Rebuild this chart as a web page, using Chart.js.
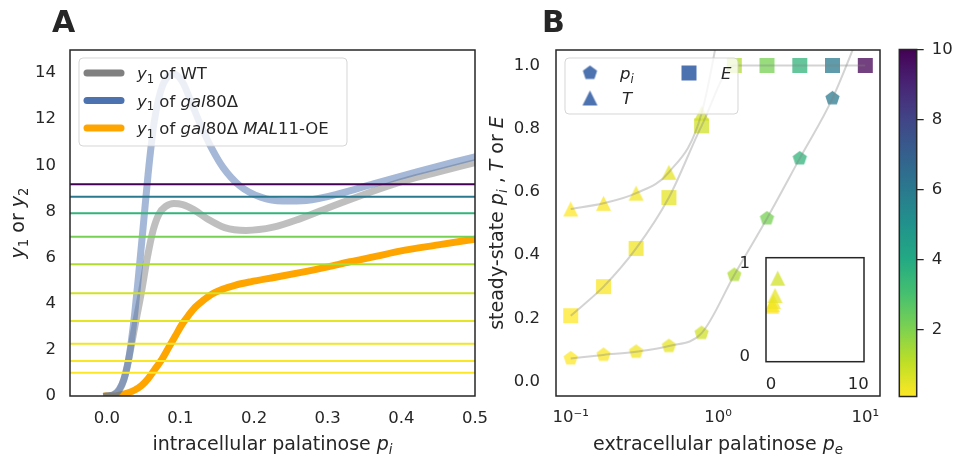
<!DOCTYPE html>
<html>
<head>
<meta charset="utf-8">
<script src="https://cdn.jsdelivr.net/npm/chart.js@4.4.1/dist/chart.umd.min.js"></script>
<style>
  html, body { margin: 0; padding: 0; background: #fff; }
  #fig { position: relative; width: 955px; height: 459px; overflow: hidden; background: #fff; }
  #fig canvas { position: absolute; top: 0; }
</style>
</head>
<body>
<div id="fig">
  <canvas id="panelA" width="500" height="459" style="left:0"></canvas>
  <canvas id="panelB" width="415" height="459" style="left:480px"></canvas>
  <canvas id="inset" width="160" height="160" style="left:720px;top:240px"></canvas>
  <canvas id="cbar" width="65" height="459" style="left:890px"></canvas>
</div>
<script>
(function() {
    "use strict";

    // ---- panel A: y1 against intracellular palatinose ----
    var piWT = [0, 0.009, 0.017, 0.023, 0.029, 0.038, 0.047, 0.055, 0.063, 0.071, 0.08, 0.091,
        0.103, 0.118, 0.138, 0.16, 0.189, 0.226, 0.262, 0.308, 0.353, 0.398, 0.443, 0.5];
    var y1WT = [0, 0.05, 0.25, 0.7, 1.5, 3.0, 4.5, 6.0, 7.2, 7.9, 8.22, 8.35,
        8.3, 8.08, 7.65, 7.3, 7.18, 7.32, 7.68, 8.25, 8.78, 9.27, 9.65, 10.12];

    var piGal80 = [0, 0.009, 0.017, 0.023, 0.028, 0.033, 0.038, 0.043, 0.049, 0.056, 0.064, 0.073,
        0.083, 0.092, 0.103, 0.115, 0.128, 0.143, 0.158, 0.181, 0.209, 0.239, 0.271, 0.317,
        0.362, 0.421, 0.5];
    var y1Gal80 = [0, 0.05, 0.3, 0.7, 1.3, 2.3, 3.6, 5.2, 7.2, 9.6, 11.8, 13.2,
        13.85, 13.95, 13.6, 12.7, 11.7, 10.7, 9.9, 9.1, 8.62, 8.45, 8.48, 8.78,
        9.2, 9.72, 10.37];

    var piMal11 = [0, 0.01, 0.018, 0.027, 0.038, 0.047, 0.056, 0.065, 0.075, 0.084, 0.093, 0.102,
        0.111, 0.12, 0.13, 0.143, 0.157, 0.174, 0.195, 0.229, 0.262, 0.3, 0.33, 0.365,
        0.398, 0.45, 0.5];
    var y1Mal11 = [0, 0, 0.05, 0.12, 0.26, 0.45, 0.75, 1.15, 1.6, 2.1, 2.6, 3.1,
        3.5, 3.85, 4.12, 4.42, 4.63, 4.8, 4.95, 5.15, 5.35, 5.6, 5.82, 6.05,
        6.28, 6.55, 6.8];

    // y2 levels, one per extracellular concentration
    var y2Levels = [1.01, 1.52, 2.27, 3.25, 4.45, 5.71, 6.9, 7.92, 8.64, 9.18];

    var ticksAX = [0, 0.1, 0.2, 0.3, 0.4, 0.5];
    var ticksAY = [0, 2, 4, 6, 8, 10, 12, 14];

    // ---- panel B: steady states against extracellular palatinose ----
    var peVals = [0.1, 0.167, 0.278, 0.464, 0.774, 1.29, 2.15, 3.59, 5.99, 10];
    var piSteady = [0.073, 0.084, 0.094, 0.112, 0.153, 0.337, 0.516, 0.706, 0.896, 1.15];
    var tSteady = [0.546, 0.564, 0.596, 0.662, 0.849, 1.4, 2.0, 2.9, 4.3, 6.5];
    var eSteady = [0.208, 0.3, 0.421, 0.582, 0.809, 1.0, 1.0, 1.0, 1.0, 1.0];

    var ticksBX = [0.1, 1, 10];
    var tickLabelsBX = ["10\u207B\u00B9", "10\u2070", "10\u00B9"];
    var ticksBY = [0, 0.2, 0.4, 0.6, 0.8, 1.0];
    var insetTicksX = [0, 10];
    var insetTicksY = [0, 1];

    var cbarMin = 0.1, cbarMax = 10;
    var cbarTicks = [2, 4, 6, 8, 10];

    // ---- text ----
    var legendTextA = [
        [{t: "y", it: 1}, {t: "1", sub: 1}, {t: " of WT"}],
        [{t: "y", it: 1}, {t: "1", sub: 1}, {t: " of "}, {t: "gal", it: 1}, {t: "80\u0394"}],
        [{t: "y", it: 1}, {t: "1", sub: 1}, {t: " of "}, {t: "gal", it: 1}, {t: "80\u0394 "},
            {t: "MAL", it: 1}, {t: "11-OE"}]
    ];
    var xTitleA = [{t: "intracellular palatinose "}, {t: "p", it: 1}, {t: "i", it: 1, sub: 1}];
    var yTitleA = [{t: "y", it: 1}, {t: "1", sub: 1}, {t: " or "}, {t: "y", it: 1}, {t: "2", sub: 1}];
    var xTitleB = [{t: "extracellular palatinose "}, {t: "p", it: 1}, {t: "e", it: 1, sub: 1}];
    var yTitleB = [{t: "steady-state "}, {t: "p", it: 1}, {t: "i", it: 1, sub: 1}, {t: " , "},
        {t: "T", it: 1}, {t: " or "}, {t: "E", it: 1}];
    var legendTextB = {
        pi: [{t: "p", it: 1}, {t: "i", it: 1, sub: 1}],
        T: [{t: "T", it: 1}],
        E: [{t: "E", it: 1}]
    };

    var INK = "#262626";
    var FONT = "'DejaVu Sans', sans-serif";
    var GRAY = "#808080", BLUE = "#4c72b0", ORANGE = "#ffa500";
    var TITLE_SIZE = 19, LEGEND_SIZE = 16.5;

    Chart.defaults.font.family = FONT;
    Chart.defaults.font.size = 16.5;
    Chart.defaults.color = INK;

    var VIRIDIS = [[68, 1, 84], [72, 36, 117], [65, 68, 135], [53, 95, 141], [42, 120, 142],
        [33, 145, 140], [34, 168, 132], [68, 191, 112], [122, 209, 81], [189, 223, 38], [253, 231, 37]];

    function viridis(t) {
        t = Math.max(0, Math.min(1, t));
        var s = t * 10, i = Math.min(9, Math.floor(s)), f = s - i;
        var a = VIRIDIS[i], b = VIRIDIS[i + 1];
        return [0, 1, 2].map(function(k) { return Math.round(a[k] + (b[k] - a[k]) * f); });
    }

    // reversed viridis over the colour bar range
    function peColor(pe, alpha) {
        var c = viridis(1 - (pe - cbarMin) / (cbarMax - cbarMin));
        return "rgba(" + c[0] + "," + c[1] + "," + c[2] + "," + alpha + ")";
    }

    function zipXY(xs, ys) {
        return xs.map(function(x, i) { return {x: x, y: ys[i]}; });
    }

    function fixedTicks(values) {
        return function(scale) {
            scale.ticks = values.map(function(v) { return {value: v}; });
        };
    }

    // pin an axis to a fixed size and stop its labels from pushing the plot area around
    function fixedSize(w, h) {
        return function(s) {
            if (w !== null) s.width = w;
            if (h !== null) s.height = h;
            s.paddingLeft = s.paddingRight = s.paddingTop = s.paddingBottom = 0;
        };
    }

    function segFont(seg, size) {
        var s = (seg.sub || seg.sup) ? size * 0.7 : size;
        return (seg.it ? "italic " : "") + (seg.bold ? "bold " : "") + s + "px " + FONT;
    }

    function drawRich(ctx, segs, x, y, size, align, angle) {
        ctx.save();
        ctx.translate(x, y);
        if (angle) ctx.rotate(angle);
        ctx.fillStyle = INK;
        ctx.textAlign = "left";
        ctx.textBaseline = "alphabetic";
        var w = 0;
        segs.forEach(function(seg) {
            ctx.font = segFont(seg, size);
            w += ctx.measureText(seg.t).width;
        });
        var cx = align === "center" ? -w / 2 : 0;
        segs.forEach(function(seg) {
            ctx.font = segFont(seg, size);
            var dy = seg.sub ? size * 0.22 : (seg.sup ? -size * 0.4 : 0);
            ctx.fillText(seg.t, cx, dy);
            cx += ctx.measureText(seg.t).width;
        });
        ctx.restore();
    }

    function drawFrame(ctx, area) {
        ctx.save();
        ctx.strokeStyle = INK;
        ctx.lineWidth = 1.5;
        ctx.strokeRect(area.left, area.top, area.right - area.left, area.bottom - area.top);
        ctx.restore();
    }

    function legendBox(ctx, x, y, w, h) {
        ctx.save();
        ctx.beginPath();
        ctx.roundRect(x, y, w, h, 4);
        ctx.fillStyle = "rgba(255,255,255,0.8)";
        ctx.fill();
        ctx.strokeStyle = "rgba(204,204,204,0.8)";
        ctx.lineWidth = 1;
        ctx.stroke();
        ctx.restore();
    }

    // marker sprites: square, triangle (width = height) and pentagon
    var markerCache = {};
    function marker(shape, color, size) {
        var key = shape + "|" + color + "|" + size;
        if (markerCache[key]) return markerCache[key];
        var c = document.createElement("canvas");
        c.width = c.height = size + 4;
        var g = c.getContext("2d");
        var m = c.width / 2, r = size / 2;
        g.beginPath();
        if (shape === "square") {
            g.rect(m - r, m - r, size, size);
        } else if (shape === "triangle") {
            g.moveTo(m, m - r);
            g.lineTo(m + r, m + r);
            g.lineTo(m - r, m + r);
            g.closePath();
        } else {
            for (var k = 0; k < 5; k++) {
                var a = -Math.PI / 2 + k * 2 * Math.PI / 5;
                g[k ? "lineTo" : "moveTo"](m + r * Math.cos(a), m + r * Math.sin(a));
            }
            g.closePath();
        }
        g.fillStyle = color;
        g.fill();
        markerCache[key] = c;
        return c;
    }

    function markerStyle(shape) {
        return function(c) {
            return marker(shape, peColor(peVals[c.dataIndex], 0.75), 15);
        };
    }

    // ---------------- panel A ----------------
    var xMinA = -0.05, xMaxA = 0.5;

    var levelSets = y2Levels.map(function(v, i) {
        return {
            data: [{x: xMinA, y: v}, {x: xMaxA, y: v}],
            borderColor: peColor(peVals[i], 1),
            borderWidth: 2,
            clip: 0,
            order: 0
        };
    });

    var overlayA = {
        id: "overlayA",
        afterDraw: function(chart) {
            var ctx = chart.ctx, area = chart.chartArea;
            drawFrame(ctx, area);
            legendBox(ctx, 79, 58, 268, 88);
            [GRAY, BLUE, ORANGE].forEach(function(col, k) {
                var y = 73 + k * 27.5;
                ctx.save();
                ctx.strokeStyle = col;
                ctx.lineWidth = 7;
                ctx.lineCap = "round";
                ctx.beginPath();
                ctx.moveTo(87, y);
                ctx.lineTo(121, y);
                ctx.stroke();
                ctx.restore();
                drawRich(ctx, legendTextA[k], 137, y + 6, LEGEND_SIZE, "left");
            });
            drawRich(ctx, xTitleA, (area.left + area.right) / 2, 450, TITLE_SIZE, "center");
            drawRich(ctx, yTitleA, 24, (area.top + area.bottom) / 2, TITLE_SIZE, "center", -Math.PI / 2);
            drawRich(ctx, [{t: "A", bold: 1}], 52, 32, 30, "left");
        }
    };

    new Chart(document.getElementById("panelA"), {
        type: "line",
        data: {
            datasets: levelSets.concat([
                {
                    data: zipXY(piGal80, y1Gal80),
                    borderColor: "rgba(76,114,176,0.5)",
                    borderWidth: 7,
                    cubicInterpolationMode: "monotone",
                    borderCapStyle: "square",
                    clip: 0,
                    order: 1
                },
                {
                    data: zipXY(piWT, y1WT),
                    borderColor: "rgba(128,128,128,0.5)",
                    borderWidth: 7,
                    cubicInterpolationMode: "monotone",
                    borderCapStyle: "square",
                    clip: 0,
                    order: 2
                },
                {
                    data: zipXY(piMal11, y1Mal11),
                    borderColor: ORANGE,
                    borderWidth: 7,
                    cubicInterpolationMode: "monotone",
                    borderCapStyle: "square",
                    clip: 0,
                    order: 3
                }
            ])
        },
        options: {
            responsive: false,
            animation: false,
            devicePixelRatio: 1,
            layout: {padding: {top: 50, right: 25, left: 0, bottom: 0}},
            elements: {point: {radius: 0}},
            plugins: {legend: {display: false}, tooltip: {enabled: false}},
            scales: {
                x: {
                    type: "linear",
                    min: xMinA,
                    max: xMaxA,
                    grid: {display: false, drawTicks: false},
                    border: {display: false},
                    ticks: {
                        padding: 13,
                        maxRotation: 0,
                        autoSkip: false,
                        callback: function(v) { return v.toFixed(1); }
                    },
                    afterBuildTicks: fixedTicks(ticksAX),
                    afterFit: fixedSize(null, 63)
                },
                y: {
                    min: 0,
                    max: 15,
                    grid: {display: false, drawTicks: false},
                    border: {display: false},
                    ticks: {padding: 14, callback: function(v) { return String(v); }},
                    afterBuildTicks: fixedTicks(ticksAY),
                    afterFit: fixedSize(70, null)
                }
            }
        },
        plugins: [overlayA]
    });

    // ---------------- panel B ----------------
    var fitLine = {
        showLine: true,
        pointRadius: 0,
        borderColor: "rgba(128,128,128,0.35)",
        borderWidth: 2,
        cubicInterpolationMode: "monotone",
        clip: 0,
        order: 0
    };

    function markerSet(values, shape) {
        return {
            data: zipXY(peVals, values),
            showLine: false,
            pointStyle: markerStyle(shape),
            pointRadius: 8,
            clip: 0,
            order: 1
        };
    }

    var overlayB = {
        id: "overlayB",
        afterDraw: function(chart) {
            var ctx = chart.ctx, area = chart.chartArea;
            drawFrame(ctx, area);
            legendBox(ctx, 85, 58, 173, 56);
            var pent = marker("pentagon", BLUE, 15), tri = marker("triangle", BLUE, 15),
                sq = marker("square", BLUE, 15);
            ctx.drawImage(pent, 110 - pent.width / 2, 73 - pent.height / 2);
            ctx.drawImage(tri, 110 - tri.width / 2, 98 - tri.height / 2);
            ctx.drawImage(sq, 209 - sq.width / 2, 73 - sq.height / 2);
            drawRich(ctx, legendTextB.pi, 140, 79, LEGEND_SIZE, "left");
            drawRich(ctx, legendTextB.T, 142, 104, LEGEND_SIZE, "left");
            drawRich(ctx, legendTextB.E, 241, 79, LEGEND_SIZE, "left");
            drawRich(ctx, xTitleB, (area.left + area.right) / 2, 450, TITLE_SIZE, "center");
            drawRich(ctx, yTitleB, 23, (area.top + area.bottom) / 2, TITLE_SIZE, "center", -Math.PI / 2);
            drawRich(ctx, [{t: "B", bold: 1}], 62, 32, 30, "left");
        }
    };

    new Chart(document.getElementById("panelB"), {
        type: "line",
        data: {
            datasets: [
                Object.assign({data: zipXY(peVals, piSteady)}, fitLine),
                Object.assign({data: zipXY(peVals, tSteady)}, fitLine),
                Object.assign({data: zipXY(peVals, eSteady)}, fitLine),
                markerSet(piSteady, "pentagon"),
                markerSet(tSteady, "triangle"),
                markerSet(eSteady, "square")
            ]
        },
        options: {
            responsive: false,
            animation: false,
            devicePixelRatio: 1,
            layout: {padding: {top: 50, right: 15, left: 0, bottom: 0}},
            plugins: {legend: {display: false}, tooltip: {enabled: false}},
            scales: {
                x: {
                    type: "logarithmic",
                    min: Math.pow(10, -1.1),
                    max: Math.pow(10, 1.1),
                    bounds: "data",
                    grid: {display: false, drawTicks: false},
                    border: {display: false},
                    ticks: {
                        padding: 12,
                        maxRotation: 0,
                        autoSkip: false,
                        callback: function(v, i) { return tickLabelsBX[i]; }
                    },
                    afterBuildTicks: fixedTicks(ticksBX),
                    afterFit: fixedSize(null, 63)
                },
                y: {
                    type: "linear",
                    min: -0.046,
                    max: 1.049,
                    grid: {display: false, drawTicks: false},
                    border: {display: false},
                    ticks: {padding: 16, callback: function(v) { return v.toFixed(1); }},
                    afterBuildTicks: fixedTicks(ticksBY),
                    afterFit: fixedSize(76, null)
                }
            }
        },
        plugins: [overlayB]
    });

    // ---------------- inset: T on linear axes ----------------
    var insetFrame = {
        id: "insetFrame",
        beforeDatasetsDraw: function(chart) {
            var a = chart.chartArea;
            chart.ctx.save();
            chart.ctx.fillStyle = "#fff";
            chart.ctx.fillRect(a.left, a.top, a.right - a.left, a.bottom - a.top);
            chart.ctx.restore();
        },
        afterDraw: function(chart) {
            drawFrame(chart.ctx, chart.chartArea);
        }
    };

    new Chart(document.getElementById("inset"), {
        type: "line",
        data: {datasets: [markerSet(tSteady, "triangle")]},
        options: {
            responsive: false,
            animation: false,
            devicePixelRatio: 1,
            layout: {padding: {top: 17.7, right: 16, left: 0, bottom: 0}},
            plugins: {legend: {display: false}, tooltip: {enabled: false}},
            scales: {
                x: {
                    type: "linear",
                    min: -0.57,
                    max: 10.65,
                    grid: {display: false, drawTicks: false},
                    border: {display: false},
                    ticks: {padding: 13, maxRotation: 0, callback: function(v) { return String(v); }},
                    afterBuildTicks: fixedTicks(insetTicksX),
                    afterFit: fixedSize(null, 38.3)
                },
                y: {
                    min: -0.054,
                    max: 1.07,
                    grid: {display: false, drawTicks: false},
                    border: {display: false},
                    ticks: {padding: 16, callback: function(v) { return String(v); }},
                    afterBuildTicks: fixedTicks(insetTicksY),
                    afterFit: fixedSize(46, null)
                }
            }
        },
        plugins: [insetFrame]
    });

    // ---------------- colour bar ----------------
    function cbarGradient(c) {
        var chart = c.chart, area = chart.chartArea;
        if (!area) return null;
        var g = chart.ctx.createLinearGradient(0, area.bottom, 0, area.top);
        for (var k = 0; k <= 20; k++) {
            var f = k / 20, col = viridis(1 - f);
            g.addColorStop(f, "rgb(" + col.join(",") + ")");
        }
        return g;
    }

    new Chart(document.getElementById("cbar"), {
        type: "bar",
        data: {
            labels: [""],
            datasets: [{
                data: [[cbarMin, cbarMax]],
                backgroundColor: cbarGradient,
                borderWidth: 0,
                barPercentage: 1,
                categoryPercentage: 1
            }]
        },
        options: {
            responsive: false,
            animation: false,
            devicePixelRatio: 1,
            layout: {padding: {top: 49.5, right: 0, left: 9.3, bottom: 62.5}},
            plugins: {legend: {display: false}, tooltip: {enabled: false}},
            scales: {
                x: {display: false},
                y: {
                    position: "right",
                    min: cbarMin,
                    max: cbarMax,
                    grid: {drawOnChartArea: false, drawTicks: true, tickLength: 7, color: INK, lineWidth: 1.25},
                    border: {display: false},
                    ticks: {padding: 8, callback: function(v) { return String(v); }},
                    afterBuildTicks: fixedTicks(cbarTicks),
                    afterFit: fixedSize(38.3, null)
                }
            }
        },
        plugins: [{
            id: "cbarFrame",
            afterDraw: function(chart) { drawFrame(chart.ctx, chart.chartArea); }
        }]
    });
})();
</script>
</body>
</html>
